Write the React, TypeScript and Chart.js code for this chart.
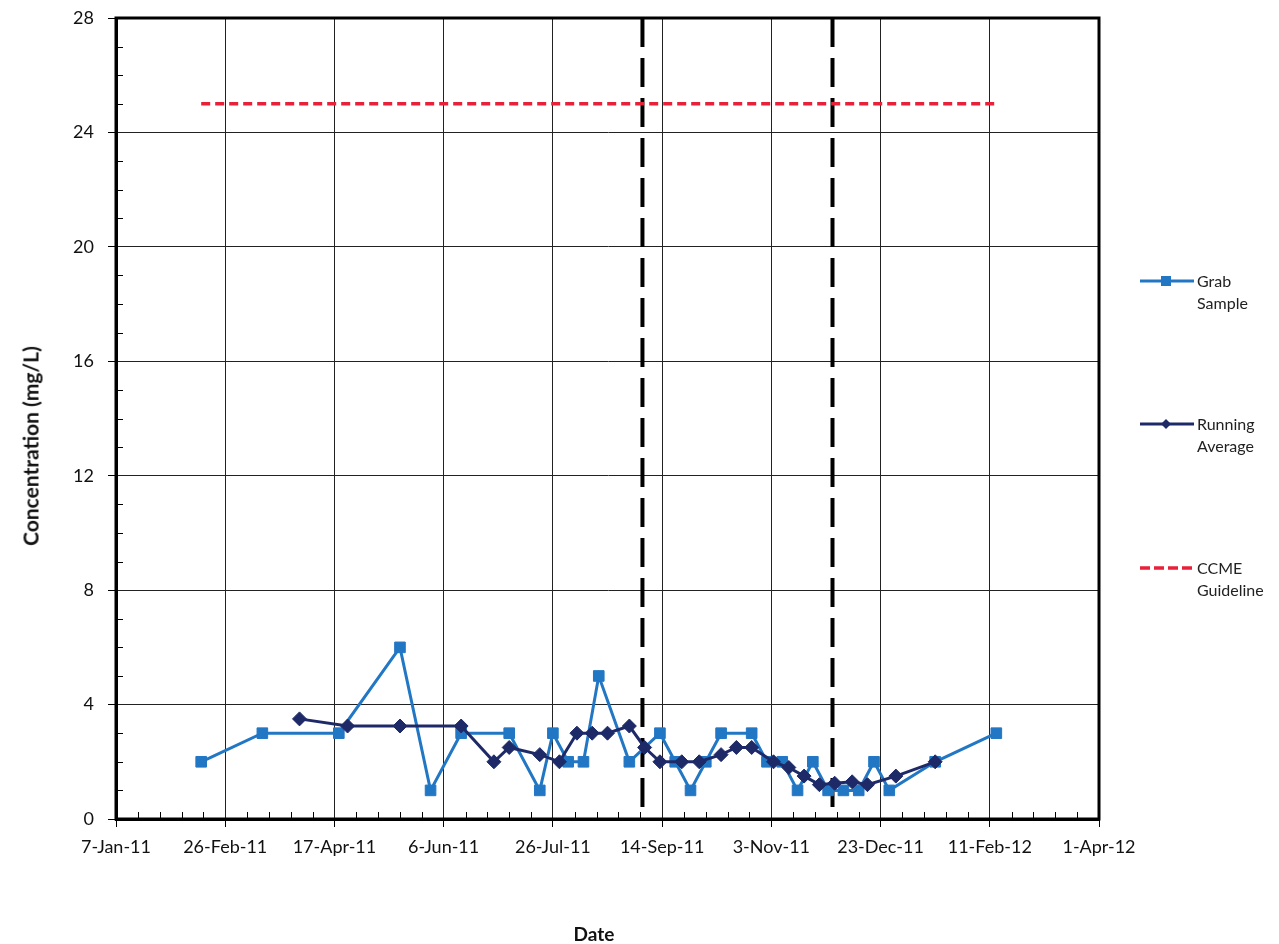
import React, { useEffect, useRef } from 'react';
import { Chart, registerables } from 'chart.js';

Chart.register(...registerables);

// ---- axis settings ----
const X_START = '2011-01-07';
const X_END = '2012-04-01';
const X_STEP_DAYS = 50;
const X_MINOR_DAYS = 10;
const Y_MIN = 0;
const Y_MAX = 28;
const Y_STEP = 4;
const Y_MINOR = 1;
const MONTHS = ['Jan', 'Feb', 'Mar', 'Apr', 'May', 'Jun', 'Jul', 'Aug', 'Sep', 'Oct', 'Nov', 'Dec'];

// ---- data ----
const grabDates = [
  '2011-02-15', '2011-03-15', '2011-04-19', '2011-05-17', '2011-05-31', '2011-06-14',
  '2011-07-06', '2011-07-20', '2011-07-26', '2011-08-02', '2011-08-09', '2011-08-16',
  '2011-08-30', '2011-09-13', '2011-09-20', '2011-09-27', '2011-10-04', '2011-10-11',
  '2011-10-25', '2011-11-01', '2011-11-08', '2011-11-15', '2011-11-22', '2011-11-29',
  '2011-12-06', '2011-12-13', '2011-12-20', '2011-12-27', '2012-01-17', '2012-02-14',
];
const grabValues = [
  2, 3, 3, 6, 1, 3,
  3, 1, 3, 2, 2, 5,
  2, 3, 2, 1, 2, 3,
  3, 2, 2, 1, 2, 1,
  1, 1, 2, 1, 2, 3,
];

const avgDates = [
  '2011-04-01', '2011-04-23', '2011-05-17', '2011-06-14', '2011-06-29', '2011-07-06',
  '2011-07-20', '2011-07-29', '2011-08-06', '2011-08-13', '2011-08-20', '2011-08-30',
  '2011-09-06', '2011-09-13', '2011-09-23', '2011-10-01', '2011-10-11', '2011-10-18',
  '2011-10-25', '2011-11-04', '2011-11-11', '2011-11-18', '2011-11-25', '2011-12-02',
  '2011-12-10', '2011-12-17', '2011-12-30', '2012-01-17',
];
const avgValues = [
  3.5, 3.25, 3.25, 3.25, 2, 2.5,
  2.25, 2, 3, 3, 3, 3.25,
  2.5, 2, 2, 2, 2.25, 2.5,
  2.5, 2, 1.8, 1.5, 1.2, 1.25,
  1.3, 1.2, 1.5, 2,
];

const guidelineDates = ['2011-02-15', '2012-02-14'];
const guidelineValue = 25;
const phaseDates = ['2011-09-05', '2011-12-01'];

const seriesNames = ['Grab Sample', 'Running Average', 'CCME Guideline'];
const legendLines = [['Grab', 'Sample'], ['Running', 'Average'], ['CCME', 'Guideline']];

// ---- styles ----
const GRAB_COLOR = '#2277C4';
const AVG_COLOR = '#1E2A68';
const RED = '#E8203A';

const DAY = 86400000;
const utc = (s: string) => {
  const [y, m, d] = s.split('-').map(Number);
  return Date.UTC(y, m - 1, d);
};
const T0 = utc(X_START);
const dayOf = (s: string) => Math.round((utc(s) - T0) / DAY);
const X_MAX = dayOf(X_END);
const fmtDay = (v: number) => {
  const d = new Date(T0 + v * DAY);
  return `${d.getUTCDate()}-${MONTHS[d.getUTCMonth()]}-${String(d.getUTCFullYear()).slice(2)}`;
};

const framePlugin = {
  id: 'frameMinor',
  afterDraw(chart: any) {
    const { ctx, chartArea: a, scales } = chart;
    const x = scales.x;
    const y = scales.y;
    ctx.save();
    ctx.strokeStyle = '#000';
    ctx.lineWidth = 1;
    ctx.beginPath();
    for (let v = 0; v <= X_MAX; v += X_MINOR_DAYS) {
      if (v % X_STEP_DAYS === 0) continue;
      const px = Math.round(x.getPixelForValue(v)) + 0.5;
      ctx.moveTo(px, a.bottom);
      ctx.lineTo(px, a.bottom - 7);
    }
    for (let v = Y_MIN; v <= Y_MAX; v += Y_MINOR) {
      if (v % Y_STEP === 0) continue;
      const py = Math.round(y.getPixelForValue(v)) + 0.5;
      ctx.moveTo(a.left, py);
      ctx.lineTo(a.left + 7, py);
    }
    ctx.stroke();
    ctx.lineWidth = 3;
    ctx.strokeRect(a.left, a.top, a.right - a.left, a.bottom - a.top);
    ctx.restore();
  },
};

export default function App() {
  const canvasRef = useRef<HTMLCanvasElement | null>(null);

  useEffect(() => {
    if (!canvasRef.current) return;
    const grab = grabDates.map((d, i) => ({ x: dayOf(d), y: grabValues[i] }));
    const avg = avgDates.map((d, i) => ({ x: dayOf(d), y: avgValues[i] }));
    const guide = guidelineDates.map((d) => ({ x: dayOf(d), y: guidelineValue }));
    const phases = phaseDates.map((d) => [
      { x: dayOf(d), y: Y_MAX },
      { x: dayOf(d), y: Y_MIN },
    ]);

    const chart = new Chart(canvasRef.current, {
      type: 'line',
      data: {
        datasets: [
          {
            label: seriesNames[1],
            data: avg,
            borderColor: AVG_COLOR,
            backgroundColor: AVG_COLOR,
            borderWidth: 3,
            pointStyle: 'rectRot',
            pointRadius: 7,
            pointBorderWidth: 1,
            tension: 0,
          },
          {
            label: seriesNames[0],
            data: grab,
            borderColor: GRAB_COLOR,
            backgroundColor: GRAB_COLOR,
            borderWidth: 3,
            pointStyle: 'rect',
            pointRadius: 7.5,
            pointBorderWidth: 1,
            tension: 0,
          },
          {
            label: seriesNames[2],
            data: guide,
            borderColor: RED,
            borderWidth: 3.5,
            borderDash: [9, 5],
            pointRadius: 0,
          },
          ...phases.map((p, i) => ({
            label: 'phase' + i,
            data: p,
            borderColor: '#000',
            borderWidth: 4,
            borderDash: [29, 11],
            pointRadius: 0,
          })),
        ],
      },
      options: {
        responsive: false,
        animation: false,
        layout: { padding: { top: 18, right: 180, left: 0, bottom: 0 } },
        plugins: {
          legend: { display: false },
          tooltip: { enabled: false },
          title: { display: false },
        },
        scales: {
          x: {
            type: 'linear',
            min: 0,
            max: X_MAX,
            afterFit: (s: any) => {
              s.height = 125;
              s.paddingLeft = 0;
              s.paddingRight = 0;
            },
            ticks: {
              stepSize: X_STEP_DAYS,
              autoSkip: false,
              maxRotation: 0,
              padding: 9,
              color: '#111',
              font: { family: 'Lato', size: 18 },
              callback: (v: any) => fmtDay(Number(v)),
            },
            grid: { color: '#222', lineWidth: 1, tickLength: 8, tickColor: '#000' },
            border: { color: '#000', width: 3 },
          },
          y: {
            type: 'linear',
            min: Y_MIN,
            max: Y_MAX,
            afterFit: (s: any) => {
              s.width = 116;
              s.paddingTop = 0;
              s.paddingBottom = 0;
            },
            ticks: {
              stepSize: Y_STEP,
              padding: 14,
              color: '#111',
              font: { family: 'Lato', size: 18 },
            },
            grid: { color: '#222', lineWidth: 1, tickLength: 8, tickColor: '#000' },
            border: { color: '#000', width: 3 },
          },
        },
      },
      plugins: [framePlugin],
    });
    return () => chart.destroy();
  }, []);

  const legendY = [281, 424, 568];
  const textStyle: React.CSSProperties = {
    position: 'absolute',
    fontFamily: 'Lato, sans-serif',
    fontSize: 16,
    lineHeight: '22px',
    color: '#222',
    whiteSpace: 'nowrap',
  };

  return (
    <div style={{ position: 'absolute', left: 0, top: 0, width: 1279, height: 944, background: '#fff' }}>
      <canvas ref={canvasRef} width={1279} height={944} style={{ display: 'block' }} />
      {/* y axis title */}
      <div
        style={{
          position: 'absolute',
          left: 30,
          top: 446,
          transform: 'translate(-50%, -50%) rotate(-90deg)',
          fontFamily: 'Lato, sans-serif',
          fontWeight: 700,
          fontSize: 21,
          color: '#111',
          whiteSpace: 'nowrap',
        }}
      >
        Concentration (mg/L)
      </div>
      {/* x axis title */}
      <div
        style={{
          position: 'absolute',
          left: 594,
          top: 933,
          transform: 'translate(-50%, -50%)',
          fontFamily: 'Lato, sans-serif',
          fontWeight: 700,
          fontSize: 19,
          color: '#111',
          whiteSpace: 'nowrap',
        }}
      >
        Date
      </div>
      {/* legend */}
      {legendLines.map((lines, i) => (
        <React.Fragment key={i}>
          <svg
            style={{ position: 'absolute', left: 1139, top: legendY[i] - 8 }}
            width={56}
            height={16}
          >
            {i === 0 && (
              <>
                <line x1={1} y1={8} x2={55} y2={8} stroke={GRAB_COLOR} strokeWidth={3} />
                <rect x={22} y={3} width={10} height={10} fill={GRAB_COLOR} />
              </>
            )}
            {i === 1 && (
              <>
                <line x1={1} y1={8} x2={55} y2={8} stroke={AVG_COLOR} strokeWidth={3} />
                <polygon points="27,3 32,8 27,13 22,8" fill={AVG_COLOR} />
              </>
            )}
            {i === 2 && (
              <line x1={1} y1={8} x2={55} y2={8} stroke={RED} strokeWidth={3.5} strokeDasharray="10 4" />
            )}
          </svg>
          <div style={{ ...textStyle, left: 1197, top: legendY[i] - 11 }}>
            {lines[0]}
            <br />
            {lines[1]}
          </div>
        </React.Fragment>
      ))}
    </div>
  );
}
